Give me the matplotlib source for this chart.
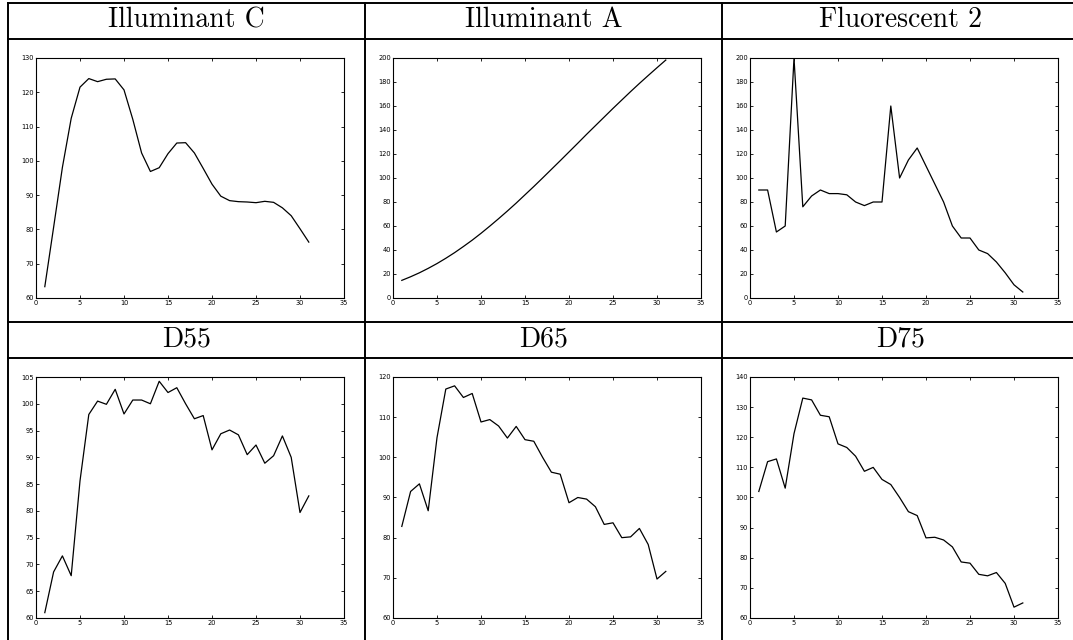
import matplotlib
matplotlib.use("Agg")
import matplotlib.pyplot as plt
from matplotlib.lines import Line2D
import numpy as np

# ---- data ----
titles = ["Illuminant C", "Illuminant A", "Fluorescent 2", "D55", "D65", "D75"]
x_index = list(range(1, 32))

illum_c = [63.3, 80.6, 98.1, 112.4, 121.5, 124.0, 123.1, 123.8, 123.9, 120.7,
           112.1, 102.3, 96.9, 98.0, 102.1, 105.2, 105.3, 102.3, 97.8, 93.2,
           89.7, 88.4, 88.1, 88.0, 87.8, 88.2, 87.9, 86.3, 84.0, 80.2, 76.3]
illum_a = [14.7, 17.7, 21.0, 24.7, 28.7, 33.1, 37.8, 42.9, 48.2, 53.9,
           59.9, 66.1, 72.5, 79.1, 86.0, 92.9, 100.0, 107.2, 114.4, 121.7,
           129.0, 136.4, 143.6, 150.8, 158.0, 165.0, 172.0, 178.8, 185.4, 191.9, 198.3]
fluor_2 = [90, 90, 55, 60, 200, 76, 85, 90, 87, 87,
           86, 80, 77, 80, 80, 160, 100, 115, 125, 110,
           95, 80, 60, 50, 50, 40, 37, 30, 21, 11, 5]
d55 = [61.0, 68.6, 71.6, 67.9, 85.6, 98.0, 100.5, 99.9, 102.7, 98.1,
       100.7, 100.7, 100.0, 104.2, 102.1, 103.0, 100.0, 97.2, 97.8, 91.4,
       94.4, 95.1, 94.2, 90.5, 92.3, 88.9, 90.3, 94.0, 90.0, 79.7, 82.8]
d65 = [82.8, 91.5, 93.4, 86.7, 104.9, 117.0, 117.8, 114.9, 115.9, 108.8,
       109.4, 107.8, 104.8, 107.7, 104.4, 104.0, 100.0, 96.3, 95.8, 88.7,
       90.0, 89.6, 87.7, 83.3, 83.7, 80.0, 80.2, 82.3, 78.3, 69.7, 71.6]
d75 = [102.0, 111.9, 112.8, 103.1, 121.2, 133.0, 132.4, 127.3, 126.8, 117.8,
       116.6, 113.7, 108.7, 110.0, 106.0, 104.3, 100.0, 95.3, 94.0, 86.6,
       86.8, 85.9, 83.6, 78.6, 78.2, 74.5, 74.0, 75.1, 71.5, 63.6, 65.0]
series = [illum_c, illum_a, fluor_2, d55, d65, d75]

y_ranges = [(60, 130, 10), (0, 200, 20), (0, 200, 20), (60, 105, 5), (60, 120, 10), (60, 140, 10)]
x_ticks = [0, 5, 10, 15, 20, 25, 30, 35]

# ---- layout (pixels) ----
W, H = 1073, 640
fig = plt.figure(figsize=(W / 100, H / 100), dpi=100)
fig.patch.set_facecolor("white")

col_lefts = [36, 393, 750]
ax_w = 308
row_tops = [58, 377]
row_bottoms = [298, 618]
col_centers = [(8 + 365) / 2, (365 + 722) / 2, (722 + 1079) / 2]
title_y = [20, 339]

def fx(px):
    return px / W

def fy(py):
    return 1 - py / H

for k in range(6):
    r, c = divmod(k, 3)
    left = col_lefts[c]
    top, bottom = row_tops[r], row_bottoms[r]
    ax = fig.add_axes([fx(left), fy(bottom), ax_w / W, (bottom - top) / H])
    ax.plot(x_index, series[k], color="black", lw=0.9)
    lo, hi, st = y_ranges[k]
    ax.set_ylim(lo, hi)
    ax.set_yticks(np.arange(lo, hi + st / 2, st))
    ax.set_xlim(0, 35)
    ax.set_xticks(x_ticks)
    ax.tick_params(direction="in", length=2.5, width=0.6, labelsize=4.8,
                   top=True, right=True, pad=1.5)
    for s in ax.spines.values():
        s.set_linewidth(0.8)
    fig.text(fx(col_centers[c]), fy(title_y[r]), titles[k], fontfamily="cmr10",
             fontsize=20, ha="center", va="center")

# ---- table grid lines ----
lw = 1.4
for xp in [8, 365, 722]:
    fig.add_artist(Line2D([fx(xp), fx(xp)], [fy(3), fy(640)], color="black", lw=lw))
for yp in [3, 39, 322, 358]:
    fig.add_artist(Line2D([fx(8), fx(1073)], [fy(yp), fy(yp)], color="black", lw=lw))

fig.savefig("out.png", dpi=100, facecolor="white")
